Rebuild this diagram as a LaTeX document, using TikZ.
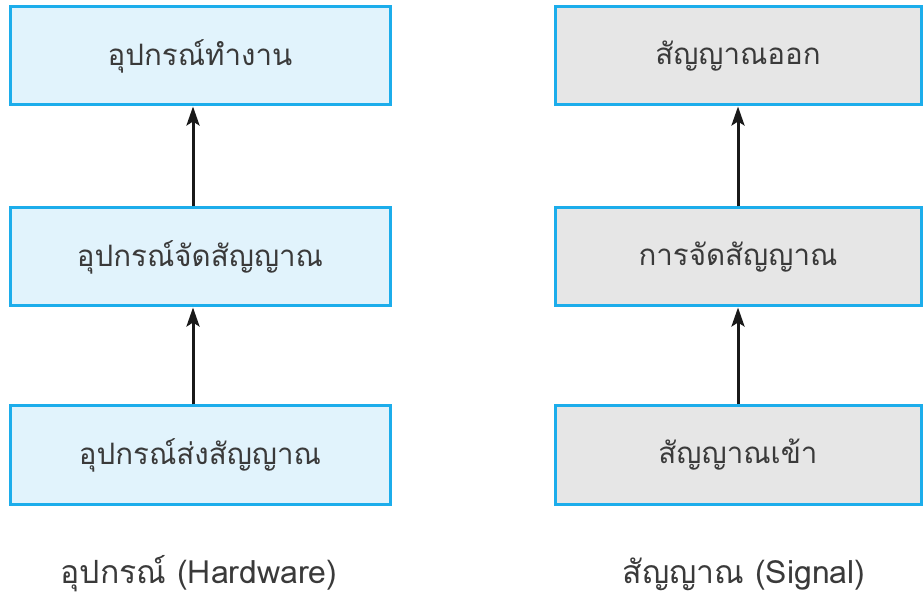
\documentclass[tikz,border=0pt]{standalone}
\usepackage{fontspec}
\newfontfamily\thaifont[Script=Thai]{Loma}
\usetikzlibrary{arrows.meta}
\definecolor{bordercyan}{HTML}{1CADEB}
\definecolor{hwfill}{HTML}{E1F3FC}
\definecolor{sigfill}{HTML}{E6E6E6}
\definecolor{txt}{HTML}{3A3A3A}
\tikzset{
  box/.style={draw=bordercyan, line width=3pt, minimum height=98pt, inner sep=0pt, font=\thaifont\fontsize{29.5}{34}\selectfont, text=txt},
  hwbox/.style={box, fill=hwfill, minimum width=380pt},
  sigbox/.style={box, fill=sigfill, minimum width=366pt},
  conn/.style={line width=3pt, draw=black!90, -{Stealth[length=19pt,width=13pt,inset=4pt]}},
  caption/.style={font=\thaifont\fontsize{32}{37}\selectfont, text=txt}
}
\begin{document}
\begin{tikzpicture}[x=1pt,y=1pt]
\useasboundingbox (0,0) rectangle (923,600);
\node[hwbox] (h1) at (200,544) {อุปกรณ์ทำงาน};
\node[hwbox] (h2) at (200,343) {อุปกรณ์จัดสัญญาณ};
\node[hwbox] (h3) at (200,145) {อุปกรณ์ส่งสัญญาณ};
\node[sigbox] (s1) at (738,544) {สัญญาณออก};
\node[sigbox] (s2) at (738,343) {การจัดสัญญาณ};
\node[sigbox] (s3) at (738,145) {สัญญาณเข้า};
\draw[conn] ([xshift=-7pt]h3.north) -- ([xshift=-7pt]h2.south);
\draw[conn] ([xshift=-7pt]h2.north) -- ([xshift=-7pt]h1.south);
\draw[conn] (s3.north) -- (s2.south);
\draw[conn] (s2.north) -- (s1.south);
\node[caption] (c1) at (199,26) {อุปกรณ์ (Hardware)};
\node[caption] (c2) at (744,26) {สัญญาณ (Signal)};
\end{tikzpicture}
\end{document}
